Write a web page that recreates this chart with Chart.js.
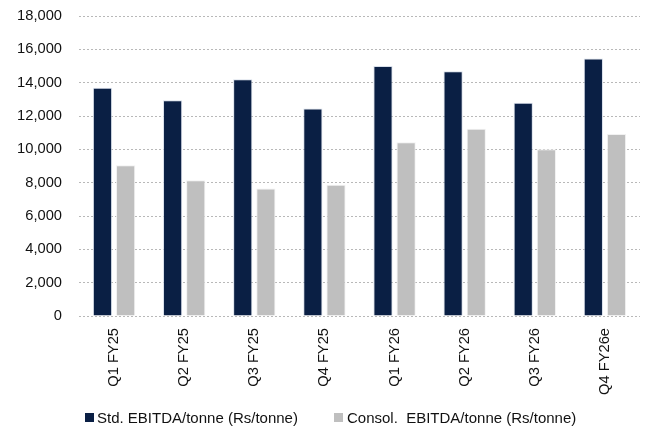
<!DOCTYPE html>
<html>
<head>
<meta charset="utf-8">
<script src="https://cdn.jsdelivr.net/npm/chart.js@4"></script>
<style>
html,body{margin:0;padding:0;background:#fff;}
#wrap{width:651px;height:428px;position:relative;overflow:hidden;}
#c{position:absolute;left:0;top:0;}
.lg{position:absolute;font-family:'Liberation Sans',Arial,sans-serif;font-size:15px;color:#111;white-space:pre;line-height:20px;}
.bx{position:absolute;width:9px;height:9px;}
</style>
</head>
<body>
<div id="wrap"><canvas id="c" width="651" height="428"></canvas><div id="legend"></div></div>
<script>
const categories = ["Q1 FY25","Q2 FY25","Q3 FY25","Q4 FY25","Q1 FY26","Q2 FY26","Q3 FY26","Q4 FY26e"];
const stdEbitda = [13700, 12950, 14200, 12450, 15000, 14680, 12800, 15450];
const consolEbitda = [9050, 8150, 7650, 7870, 10420, 11240, 10000, 10920];
const seriesNames = ["Std. EBITDA/tonne (Rs/tonne)", "Consol.  EBITDA/tonne (Rs/tonne)"];
const seriesColors = ['#0A1F44', '#BFBFBF'];

const FONT = "'Liberation Sans', Arial, sans-serif";
const chart = new Chart(document.getElementById('c'), {
  type: 'bar',
  data: {
    labels: categories,
    datasets: [
      {label: seriesNames[0], data: stdEbitda, backgroundColor: seriesColors[0], borderColor: 'rgba(200,210,225,0.7)', borderWidth: 1, categoryPercentage: 0.66, barPercentage: 0.83},
      {label: seriesNames[1], data: consolEbitda, backgroundColor: seriesColors[1], borderColor: 'rgba(240,240,240,0.9)', borderWidth: 1, categoryPercentage: 0.66, barPercentage: 0.83}
    ]
  },
  options: {
    responsive: false,
    animation: false,
    layout: {padding: {top: 16, left: 0, right: 11, bottom: 0}},
    plugins: {
      tooltip: {enabled: false},
      legend: {display: false}
    },
    scales: {
      x: {
        grid: {display: false},
        border: {display: false},
        ticks: {minRotation: 90, maxRotation: 90, color: '#111', font: {family: FONT, size: 14.7}, padding: 4},
        afterFit: s => { s.height = 112; }
      },
      y: {
        min: 0, max: 18000,
        ticks: {stepSize: 2000, color: '#111', font: {family: FONT, size: 14.7}, padding: 17,
          callback: v => v.toLocaleString('en-US')},
        grid: {color: '#b8b8b8', lineWidth: 1, drawTicks: false},
        border: {display: false, dash: [2, 2]},
        afterFit: s => { s.width = 79; s.paddingTop = 0; s.paddingBottom = 0; }
      }
    }
  }
});

// HTML legend built from the datasets
const legendPos = [{box: 85, text: 97}, {box: 334, text: 347}];
const lg = document.getElementById('legend');
chart.data.datasets.forEach((ds, i) => {
  const b = document.createElement('div');
  b.className = 'bx';
  b.style.left = legendPos[i].box + 'px';
  b.style.top = '413px';
  b.style.background = ds.backgroundColor;
  lg.appendChild(b);
  const t = document.createElement('div');
  t.className = 'lg';
  t.style.left = legendPos[i].text + 'px';
  t.style.top = '408px';
  t.textContent = ds.label;
  lg.appendChild(t);
});
</script>
</body>
</html>
